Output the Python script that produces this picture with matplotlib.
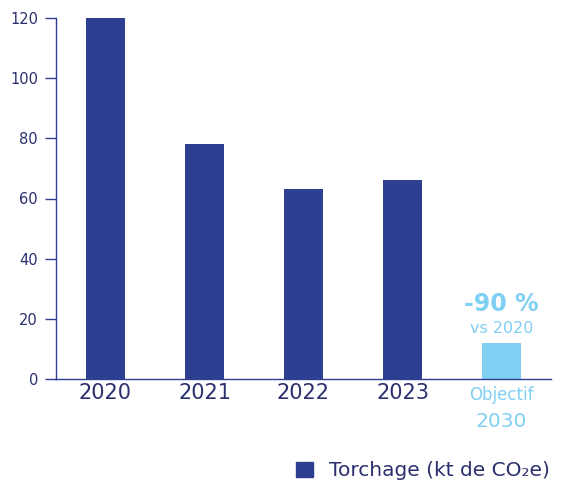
import matplotlib
matplotlib.use("Agg")
import matplotlib.pyplot as plt
from matplotlib.patches import Rectangle

categories = ["2020", "2021", "2022", "2023"]
values = [120, 78, 63, 66]
target_label = ["Objectif", "2030"]
target_value = 12
yticks = [0, 20, 40, 60, 80, 100, 120]
legend_label = "Torchage (kt de CO₂e)"

dark = "#2E3F91"
light = "#80D0F4"
txt = "#2B2F6E"

plt.rcParams['font.family'] = ['DejaVu Sans']

fig = plt.figure(figsize=(5.64, 4.8), dpi=100)
ax = fig.add_axes([56/564, 1-379/480, (551-56)/564, (379-18)/480])

x = list(range(len(categories)))
ax.bar(x, values, width=0.4, color=dark)
ax.bar([len(categories)], [target_value], width=0.4, color=light)

ax.set_xlim(-0.5, 4.5)
ax.set_ylim(0, 120)
ax.set_yticks(yticks)
ax.set_yticklabels([str(v) for v in yticks], fontsize=10.5, color=txt)
ax.tick_params(axis='y', length=8, width=1, color=dark, pad=5)
ax.set_xticks(x)
ax.set_xticklabels(categories, fontsize=15, color=txt)
ax.tick_params(axis='x', length=0, pad=3)
for s in ['top', 'right']:
    ax.spines[s].set_visible(False)
for s in ['left', 'bottom']:
    ax.spines[s].set_color(dark)
    ax.spines[s].set_linewidth(1)

ax.text(len(categories), target_value + 10.5, "-90 %", ha='center', va='baseline',
        fontsize=17, fontweight='bold', color=light)
ax.text(len(categories), target_value + 3.2, "vs 2020", ha='center', va='baseline',
        fontsize=11.5, color=light)
ax.text(len(categories), -7.0, target_label[0], ha='center', va='baseline',
        fontsize=12, color=light)
ax.text(len(categories), -15.9, target_label[1], ha='center', va='baseline',
        fontsize=14.5, color=light)

fig.patches.append(Rectangle((296/564, 1-477/480), 17/564, 15/480,
                             transform=fig.transFigure, color=dark))
fig.text(329/564, 1-470/480, legend_label, ha='left', va='center',
         fontsize=14.5, color=txt)

fig.savefig("out.png", dpi=100)
